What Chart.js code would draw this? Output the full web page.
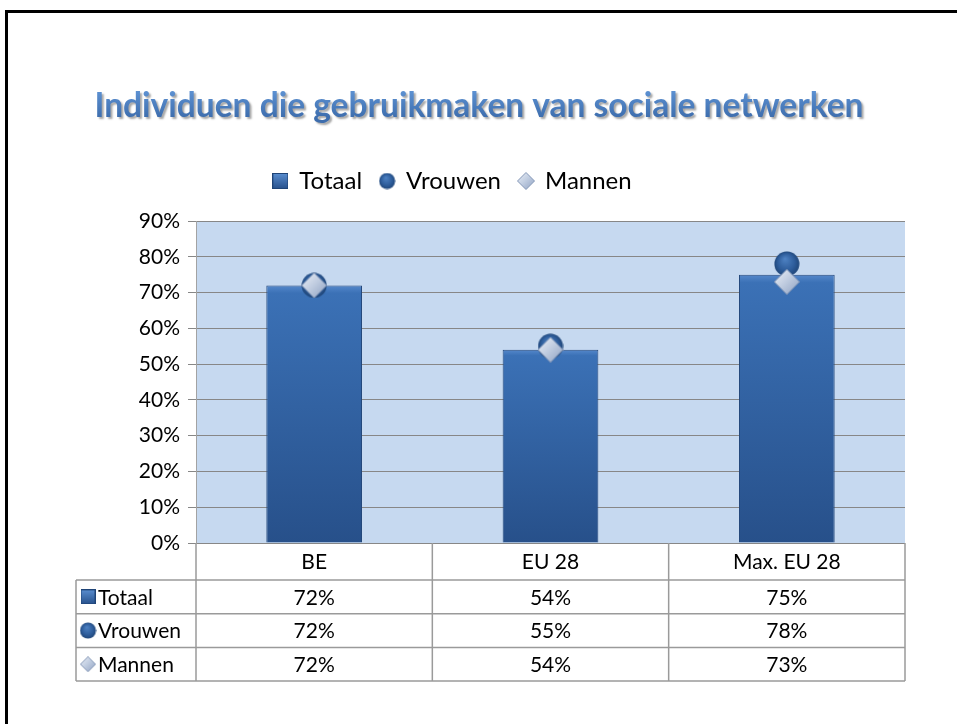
<!DOCTYPE html>
<html>
<head>
<meta charset="utf-8">
<title>Individuen die gebruikmaken van sociale netwerken</title>
<script src="https://cdn.jsdelivr.net/npm/chart.js@4.4.1/dist/chart.umd.min.js"></script>
<style>
  html, body { margin: 0; padding: 0; background: #fff; overflow: hidden; }
  #frame { position: absolute; left: 5px; top: 10px; width: 1000px; height: 1000px; border: 3px solid #000; }
  #chart { position: absolute; left: 0; top: 0; }
</style>
</head>
<body>
<div id="frame"></div>
<canvas id="chart" width="957" height="724"></canvas>
<script>
// Data
const chartTitle = 'Individuen die gebruikmaken van sociale netwerken';
const categories = ['BE', 'EU 28', 'Max. EU 28'];
const seriesNames = ['Totaal', 'Vrouwen', 'Mannen'];
const totaal = [72, 54, 75];
const vrouwen = [72, 55, 78];
const mannen = [72, 54, 73];
const yMin = 0;
const yMax = 90;
const yStep = 10;

const FONT = 'Lato, "Open Sans", sans-serif';

// Small canvases used as point styles (legend, markers, table)
function makeIcon(kind, size) {
    const c = document.createElement('canvas');
    c.width = size;
    c.height = size;
    const g = c.getContext('2d');
    const h = size / 2;
    if (kind === 'square') {
        const grad = g.createLinearGradient(0, 0, 0, size);
        grad.addColorStop(0, '#5b8fd1');
        grad.addColorStop(1, '#27508b');
        g.fillStyle = grad;
        g.fillRect(0, 0, size, size);
        g.strokeStyle = '#1f4477';
        g.lineWidth = 1;
        g.strokeRect(0.5, 0.5, size - 1, size - 1);
    } else if (kind === 'circle') {
        const grad = g.createRadialGradient(h * 0.85, h * 0.6, 0, h, h, h);
        grad.addColorStop(0, '#4f83c4');
        grad.addColorStop(0.65, '#2e5d9b');
        grad.addColorStop(1, '#1e4476');
        g.fillStyle = grad;
        g.beginPath();
        g.arc(h, h, h - 0.5, 0, Math.PI * 2);
        g.fill();
    } else {
        const grad = g.createLinearGradient(0, 0, size, size);
        grad.addColorStop(0, '#eef2f8');
        grad.addColorStop(0.45, '#c3cfe2');
        grad.addColorStop(1, '#8c9fc0');
        g.fillStyle = grad;
        g.beginPath();
        g.moveTo(h, 0.5);
        g.lineTo(size - 0.5, h);
        g.lineTo(h, size - 0.5);
        g.lineTo(0.5, h);
        g.closePath();
        g.fill();
        g.strokeStyle = '#8396b6';
        g.lineWidth = 1;
        g.stroke();
    }
    return c;
}

const legendIcons = [makeIcon('square', 16), makeIcon('circle', 17), makeIcon('diamond', 18)];
const tableIcons = [makeIcon('square', 15), makeIcon('circle', 17), makeIcon('diamond', 16)];
const circleMarker = makeIcon('circle', 26);
const diamondMarker = makeIcon('diamond', 26);

// Bar fill: vertical gradient from each bar's top to its base
function barFill(context) {
    const chart = context.chart;
    const y = chart.scales.y;
    if (!chart.chartArea || !y) return '#2f5e9e';
    const top = y.getPixelForValue(context.raw);
    const base = y.getPixelForValue(0);
    const grad = chart.ctx.createLinearGradient(0, top, 0, base);
    grad.addColorStop(0, '#5588cb');
    grad.addColorStop(0.03, '#3b71b6');
    grad.addColorStop(1, '#27508a');
    return grad;
}

// Extra space under the legend so the plot starts lower
const legendSpacing = {
    id: 'legendSpacing',
    beforeInit(chart) {
        const fit = chart.legend.fit;
        chart.legend.fit = function () {
            fit.call(this);
            this.height += 18;
        };
    }
};

// Plot area background
const plotBackground = {
    id: 'plotBackground',
    beforeDraw(chart) {
        const { ctx, chartArea: a } = chart;
        ctx.save();
        ctx.fillStyle = '#c6d9f0';
        ctx.fillRect(a.left, a.top, a.right - a.left, a.bottom - a.top);
        ctx.restore();
    }
};

// Title with gradient and shadow
const slideTitle = {
    id: 'slideTitle',
    afterDraw(chart) {
        const ctx = chart.ctx;
        ctx.save();
        ctx.font = 'bold 36px ' + FONT;
        const w = ctx.measureText(chartTitle).width;
        const size = 36 * 770 / w;
        ctx.font = 'bold ' + size.toFixed(1) + 'px ' + FONT;
        ctx.textAlign = 'center';
        ctx.textBaseline = 'alphabetic';
        const grad = ctx.createLinearGradient(0, 88, 0, 118);
        grad.addColorStop(0, '#6095d6');
        grad.addColorStop(1, '#3d6dad');
        ctx.shadowColor = 'rgba(0,0,0,0.35)';
        ctx.shadowOffsetX = 2;
        ctx.shadowOffsetY = 2;
        ctx.shadowBlur = 2;
        ctx.fillStyle = grad;
        ctx.fillText(chartTitle, 479, 117);
        ctx.restore();
    }
};

// Data table under the plot
const dataTable = {
    id: 'dataTable',
    afterDraw(chart) {
        const { ctx, chartArea: a, scales: { x } } = chart;
        const colW = (a.right - a.left) / categories.length;
        const tableLeft = 76;
        const headerBottom = a.bottom + 37;
        const rowH = 33.7;
        const tableBottom = headerBottom + rowH * seriesNames.length;
        const rows = [totaal, vrouwen, mannen];

        ctx.save();
        ctx.strokeStyle = '#9a9a9a';
        ctx.lineWidth = 1.5;
        ctx.beginPath();
        for (let r = 0; r <= seriesNames.length; r++) {
            const yy = headerBottom + r * rowH;
            ctx.moveTo(tableLeft, yy);
            ctx.lineTo(a.right, yy);
        }
        ctx.moveTo(tableLeft, headerBottom);
        ctx.lineTo(tableLeft, tableBottom);
        for (let c = 0; c <= categories.length; c++) {
            const xx = a.left + c * colW;
            ctx.moveTo(xx, a.bottom);
            ctx.lineTo(xx, tableBottom);
        }
        ctx.stroke();

        ctx.fillStyle = '#000';
        ctx.font = '21px ' + FONT;
        ctx.textBaseline = 'middle';
        ctx.textAlign = 'center';
        categories.forEach((cat, i) => {
            ctx.fillText(cat, x.getPixelForValue(i), (a.bottom + headerBottom) / 2 + 1);
        });
        rows.forEach((vals, r) => {
            const cy = headerBottom + rowH * (r + 0.5) + 1;
            vals.forEach((v, i) => {
                ctx.fillText(v + '%', x.getPixelForValue(i), cy);
            });
            const icon = tableIcons[r];
            ctx.drawImage(icon, 88 - icon.width / 2, cy - 1 - icon.height / 2);
        });
        ctx.textAlign = 'left';
        seriesNames.forEach((name, r) => {
            ctx.fillText(name, 98, headerBottom + rowH * (r + 0.5) + 1);
        });
        ctx.restore();
    }
};

function build() {
    new Chart(document.getElementById('chart'), {
        type: 'bar',
        data: {
            labels: categories,
            datasets: [
                {
                    type: 'bar',
                    label: seriesNames[0],
                    data: totaal,
                    order: 3,
                    backgroundColor: barFill,
                    borderColor: '#24487b',
                    borderWidth: 1,
                    barPercentage: 0.405,
                    categoryPercentage: 1
                },
                {
                    type: 'line',
                    label: seriesNames[1],
                    data: vrouwen,
                    order: 2,
                    showLine: false,
                    pointStyle: circleMarker,
                    pointRadius: 12,
                    pointHoverRadius: 12
                },
                {
                    type: 'line',
                    label: seriesNames[2],
                    data: mannen,
                    order: 1,
                    showLine: false,
                    pointStyle: diamondMarker,
                    pointRadius: 13,
                    pointHoverRadius: 13
                }
            ]
        },
        options: {
            responsive: false,
            devicePixelRatio: 1,
            animation: false,
            layout: {
                padding: { left: 0, right: 52, top: 151, bottom: 181 }
            },
            plugins: {
                title: { display: false },
                tooltip: { enabled: false },
                legend: {
                    display: true,
                    position: 'top',
                    labels: {
                        usePointStyle: true,
                        boxWidth: 14,
                        boxHeight: 14,
                        padding: 18,
                        color: '#000',
                        font: { family: FONT, size: 24 },
                        generateLabels: chart => chart.data.datasets.map((ds, i) => ({
                            text: ds.label,
                            pointStyle: legendIcons[i],
                            fillStyle: 'rgba(0,0,0,0)',
                            strokeStyle: 'rgba(0,0,0,0)',
                            lineWidth: 0,
                            hidden: false,
                            datasetIndex: i,
                            fontColor: '#000'
                        }))
                    }
                }
            },
            scales: {
                x: {
                    display: false,
                    offset: true
                },
                y: {
                    min: yMin,
                    max: yMax,
                    ticks: {
                        stepSize: yStep,
                        color: '#000',
                        padding: 8,
                        font: { family: FONT, size: 21 },
                        callback: v => v + '%'
                    },
                    grid: {
                        color: '#878787',
                        lineWidth: 1,
                        tickLength: 8
                    },
                    border: { color: '#a3a3a3', width: 1 },
                    afterFit: scale => { scale.width = 196; }
                }
            }
        },
        plugins: [legendSpacing, plotBackground, slideTitle, dataTable]
    });
}

Promise.all([
    document.fonts.load('21px Lato'),
    document.fonts.load('bold 36px Lato')
]).then(build, build);
</script>
</body>
</html>
